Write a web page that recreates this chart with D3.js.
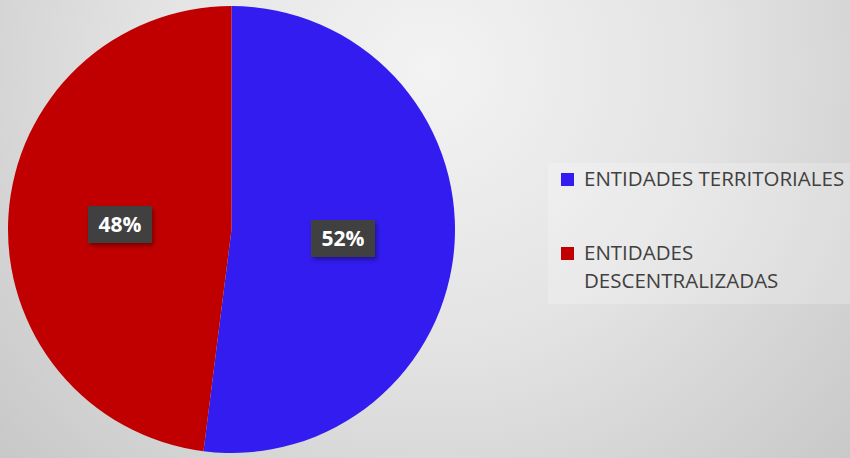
<!DOCTYPE html>
<html>
<head>
<meta charset="utf-8">
<script src="https://cdn.jsdelivr.net/npm/d3@7"></script>
<style>
  html, body { margin: 0; padding: 0; background: #e0e0e0; }
  svg { display: block; }
</style>
</head>
<body>
<svg id="chart" width="850" height="458"></svg>
<script>
// Share of entities by type
const categories = ["ENTIDADES TERRITORIALES", "ENTIDADES DESCENTRALIZADAS"];
const values = [52, 48];
const colors = ["#321cf0", "#c00000"];
// Legend labels, wrapped into lines
const legendLines = [["ENTIDADES TERRITORIALES"], ["ENTIDADES", "DESCENTRALIZADAS"]];

const W = 850, H = 458;
const svg = d3.select("#chart");
const defs = svg.append("defs");

// Soft radial gray background
const bg = defs.append("radialGradient").attr("id", "bg")
  .attr("gradientUnits", "userSpaceOnUse")
  .attr("cx", 430).attr("cy", 70).attr("r", 620);
bg.append("stop").attr("offset", "0%").attr("stop-color", "#f3f3f3");
bg.append("stop").attr("offset", "45%").attr("stop-color", "#e3e3e3");
bg.append("stop").attr("offset", "100%").attr("stop-color", "#c4c4c4");
svg.append("rect").attr("width", W).attr("height", H).attr("fill", "url(#bg)");

const shadow = defs.append("filter").attr("id", "shadow")
  .attr("x", "-30%").attr("y", "-30%").attr("width", "160%").attr("height", "160%");
shadow.append("feDropShadow").attr("dx", 2).attr("dy", 3).attr("stdDeviation", 2)
  .attr("flood-color", "#000").attr("flood-opacity", 0.35);

// Pie
const cx = 231.5, cy = 229.5, R = 223.5;
const pie = d3.pie().sort(null).value(d => d)(values);
const arc = d3.arc().innerRadius(0).outerRadius(R);
const g = svg.append("g").attr("transform", `translate(${cx},${cy})`);
g.selectAll("path.slice").data(pie).join("path")
  .attr("class", "slice")
  .attr("d", arc)
  .attr("fill", (d, i) => colors[i]);

// Percentage labels in dark boxes
const total = d3.sum(values);
const lab = g.selectAll("g.lab").data(pie).join("g")
  .attr("class", "lab")
  .attr("transform", d => {
    const [x, y] = arc.centroid(d);
    return `translate(${x},${y + 2})`;
  });
lab.append("rect")
  .attr("x", -32).attr("y", -18.5).attr("width", 64).attr("height", 37)
  .attr("fill", "#404040")
  .attr("filter", "url(#shadow)");
lab.append("text")
  .attr("text-anchor", "middle")
  .attr("dy", "0.36em")
  .attr("fill", "#ffffff")
  .attr("font-family", "'Open Sans', sans-serif")
  .attr("font-weight", "bold")
  .attr("font-size", 21)
  .text(d => Math.round(d.value / total * 100) + "%");

// Legend
const legend = svg.append("g");
legend.append("rect")
  .attr("x", 548).attr("y", 163).attr("width", 302).attr("height", 141)
  .attr("fill", "#ffffff").attr("fill-opacity", 0.22);
const legendY = [186, 260];
const item = legend.selectAll("g.item").data(categories).join("g")
  .attr("class", "item")
  .attr("transform", (d, i) => `translate(561,${legendY[i]})`);
item.append("rect")
  .attr("x", 0).attr("y", -13).attr("width", 13).attr("height", 13)
  .attr("fill", (d, i) => colors[i]);
item.append("text")
  .attr("x", 23)
  .attr("fill", "#404040")
  .attr("font-family", "'Open Sans', sans-serif")
  .attr("font-size", 20.5)
  .each(function (d, i) {
    d3.select(this).selectAll("tspan").data(legendLines[i]).join("tspan")
      .attr("x", 23)
      .attr("dy", (t, j) => j === 0 ? 0 : 28)
      .text(t => t);
  });
</script>
</body>
</html>
